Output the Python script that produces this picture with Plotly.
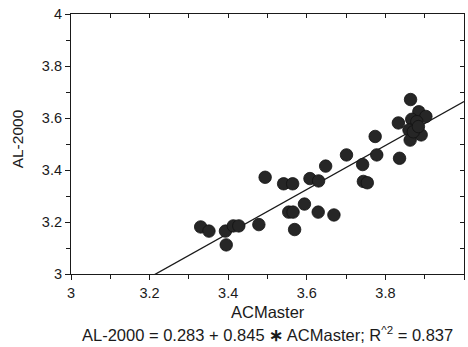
import plotly.graph_objects as go

# Data
acmaster = [3.330, 3.351, 3.393, 3.395, 3.413, 3.427, 3.478, 3.494, 3.541, 3.564,
            3.554, 3.565, 3.569, 3.594, 3.608, 3.630, 3.629, 3.648, 3.669, 3.701,
            3.742, 3.744, 3.754, 3.774, 3.778, 3.833, 3.836, 3.864, 3.885, 3.903,
            3.867, 3.880, 3.860, 3.891, 3.863, 3.871, 3.884]
al2000 = [3.181, 3.165, 3.165, 3.112, 3.185, 3.185, 3.190, 3.372, 3.347, 3.347,
          3.238, 3.238, 3.171, 3.269, 3.367, 3.358, 3.238, 3.415, 3.227, 3.458,
          3.421, 3.356, 3.351, 3.529, 3.458, 3.581, 3.445, 3.671, 3.624, 3.606,
          3.595, 3.586, 3.554, 3.535, 3.515, 3.547, 3.567]
intercept = 0.283
slope = 0.845
x_ticks = [3, 3.2, 3.4, 3.6, 3.8, 4]
y_ticks = [3, 3.2, 3.4, 3.6, 3.8, 4]

fit_x = [3.0, 4.0]
fit_y = [intercept + slope * v for v in fit_x]

FONT = "Liberation Sans, Arial, sans-serif"
INK = "#1a1a1a"

fig = go.Figure()
fig.add_trace(go.Scatter(x=fit_x, y=fit_y, mode="lines",
                         line=dict(color=INK, width=1.3), showlegend=False,
                         hoverinfo="skip"))
fig.add_trace(go.Scatter(x=acmaster, y=al2000, mode="markers",
                         marker=dict(size=12.5, color="#262626",
                                     line=dict(width=0.8, color="#111111")),
                         showlegend=False))
# invisible trace for the mirrored (top/right) axes
fig.add_trace(go.Scatter(x=[3], y=[3], xaxis="x2", yaxis="y2", mode="markers",
                         marker=dict(opacity=0), showlegend=False,
                         hoverinfo="skip"))

axis_common = dict(range=[3, 4], showgrid=False, zeroline=False,
                   showline=True, linecolor=INK, linewidth=1.2,
                   tickcolor=INK, tickwidth=1,
                   tickfont=dict(family=FONT, size=14.5, color=INK))

fig.update_layout(
    width=468, height=347,
    margin=dict(l=71, r=4, t=14, b=73),
    paper_bgcolor="white", plot_bgcolor="white",
    font=dict(family=FONT, color=INK),
    xaxis=dict(**axis_common, tickvals=x_ticks,
               ticktext=[f"{v:g}" for v in x_ticks],
               ticks="outside", ticklen=5,
               minor=dict(dtick=0.1, ticks="outside", ticklen=4,
                          tickcolor=INK)),
    yaxis=dict(**axis_common, tickvals=y_ticks,
               ticktext=[f"{v:g}" for v in y_ticks],
               ticks="outside", ticklen=5,
               minor=dict(dtick=0.1, ticks="outside", ticklen=4,
                          tickcolor=INK)),
    xaxis2=dict(range=[3, 4], overlaying="x", side="top", showgrid=False,
                zeroline=False, showline=True, linecolor=INK, linewidth=1.2,
                ticks="inside", ticklen=4, tickcolor=INK, dtick=0.1, tick0=3,
                showticklabels=False),
    yaxis2=dict(range=[3, 4], overlaying="y", side="right", showgrid=False,
                zeroline=False, showline=True, linecolor=INK, linewidth=1.2,
                ticks="inside", ticklen=4, tickcolor=INK, dtick=0.1, tick0=3,
                showticklabels=False),
    annotations=[
        dict(text="ACMaster", xref="paper", yref="paper", x=0.5, y=-0.146,
             xanchor="center", yanchor="middle", showarrow=False,
             font=dict(family=FONT, size=16.5, color=INK)),
        dict(text="AL-2000", xref="paper", yref="paper", x=-0.136, y=0.52,
             xanchor="center", yanchor="middle", textangle=-90,
             showarrow=False, font=dict(family=FONT, size=15.5, color=INK)),
        dict(text="AL-2000 = 0.283 + 0.845 <b>∗</b> ACMaster; R<sup>^2</sup> = 0.837",
             xref="paper", yref="paper", x=0.5, y=-0.231, xanchor="center",
             yanchor="middle", showarrow=False,
             font=dict(family=FONT, size=16.5, color=INK)),
    ],
)

fig.write_html("out.html")
